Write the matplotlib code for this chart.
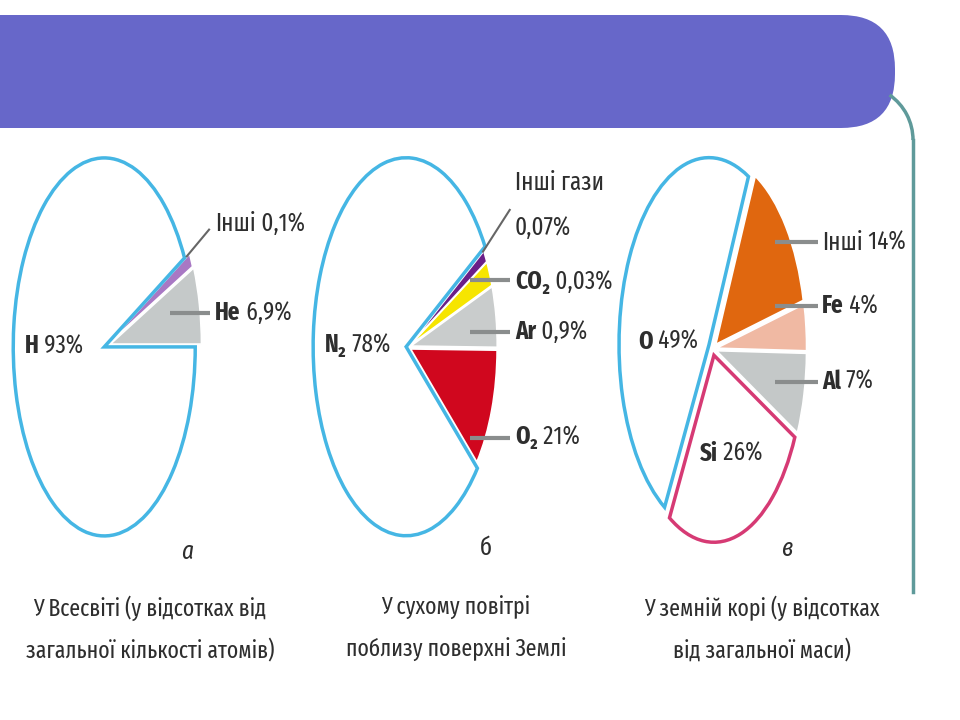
import matplotlib
matplotlib.use("Agg")
import matplotlib.pyplot as plt
from matplotlib.patches import FancyBboxPatch, Arc

plt.rcParams['font.family'] = ['Fira Sans Extra Condensed', 'Fira Sans Condensed', 'DejaVu Sans']

# а: у Всесвіті (частки - як намальовано на рисунку)
a_names = ["He", "Інші", "H"]
a_pcts = ["6,9%", "0,1%", "93%"]
a_sizes = [6.6, 1.2, 92.2]

# б: сухе повітря
b_names = ["O₂", "Ar", "CO₂", "Інші гази", "N₂"]
b_pcts = ["21%", "0,9%", "0,03%", "0,07%", "78%"]
b_sizes = [11.0, 5.6, 2.3, 1.1, 80.0]

# в: земна кора
c_names = ["O", "Si", "Al", "Fe", "Інші"]
c_pcts = ["49%", "26%", "7%", "4%", "14%"]
c_sizes = [49, 26, 7, 4, 14]

letters = ["а", "б", "в"]
captions = [
    ["У Всесвіті (у відсотках від", "загальної кількості атомів)"],
    ["У сухому повітрі", "поблизу поверхні Землі"],
    ["У земній корі (у відсотках", "від загальної маси)"],
]

BLUE = "#45b6e4"
TXT = "#2e2e2e"
LINE = "#8a8d8d"
FS = 18      # підписи секторів
FS_CAP = 17  # підписи під діаграмами

fig = plt.figure(figsize=(9.6, 7.2), dpi=100)

# фон слайда
bg = fig.add_axes([0, 0, 1, 1])
bg.set_xlim(0, 960)
bg.set_ylim(720, 0)
bg.axis('off')
bg.add_patch(FancyBboxPatch((-60, 15), 955, 113, boxstyle="round,pad=0,rounding_size=54",
                            fc="#6767c9", ec="none"))
bg.add_patch(Arc((858, 140), 110, 110, theta1=-55, theta2=0, color="#5f9a9a", lw=2.5))
bg.plot([913, 913], [140, 592], color="#5f9a9a", lw=2.5)

for i, cap in enumerate(captions):
    cx = [150, 456, 762][i]
    bg.text(cx, 608, cap[0], ha='center', va='center', fontsize=FS_CAP, color=TXT)
    bg.text(cx, 650, cap[1], ha='center', va='center', fontsize=FS_CAP, color=TXT)


def pie_axes(cx, cy, rx, ry):
    ax = fig.add_axes([(cx - 1.3 * rx) / 960, (720 - cy - 1.3 * ry) / 720,
                       2.6 * rx / 960, 2.6 * ry / 720])
    return ax


def finish(ax):
    ax.set_xlim(-1.3, 1.3)
    ax.set_ylim(-1.3, 1.3)
    ax.set_aspect('auto')
    ax.axis('off')


def label(ax, x, y, name, pct, bold=True):
    t = ax.text(x, y, name, fontsize=FS, fontweight='bold' if bold else 'normal',
                ha='left', va='center', color=TXT)
    ax.annotate(" " + pct, xy=(1, 0), xycoords=t, ha='left', va='bottom',
                fontsize=FS, color=TXT)


def leader(ax, x0, x1, y0, y1=None, lw=3, color=LINE):
    if y1 is None:
        y1 = y0
    ax.plot([x0, x1], [y0, y1], color=color, lw=lw, solid_capstyle='butt')


# ---- а ----
ax = pie_axes(106, 346, 91, 189)
w, _ = ax.pie(a_sizes, startangle=0, counterclock=True, explode=[0.05, 0.04, 0.02],
              colors=["#c5c9c9", "#a878c4", "white"],
              wedgeprops=dict(edgecolor="white", linewidth=1.2))
w[2].set_edgecolor(BLUE)
w[2].set_linewidth(2.5)
finish(ax)
label(ax, -0.89, 0.0, a_names[2], a_pcts[2])
leader(ax, 0.70, 1.14, 0.175)
label(ax, 1.2, 0.175, a_names[0], a_pcts[0])
leader(ax, 0.88, 1.14, 0.47, 0.62, lw=1.5, color="#666666")
label(ax, 1.2, 0.645, a_names[1], a_pcts[1], bold=False)
ax.text(0.89, -1.09, letters[0], fontsize=FS, style='italic', ha='center', va='center', color=TXT)

# ---- б ----
ax = pie_axes(408, 347, 93, 189)
w, _ = ax.pie(b_sizes, startangle=-40, counterclock=True,
              explode=[0.03, 0.03, 0.03, 0.03, 0.02],
              colors=["#d0071e", "#c9cccc", "#f6e500", "#6a1f88", "white"],
              wedgeprops=dict(edgecolor="white", linewidth=1.2))
for k in range(4):
    w[k].set_radius(0.93)
w[4].set_edgecolor(BLUE)
w[4].set_linewidth(2.5)
finish(ax)
label(ax, -0.89, 0.01, b_names[4], b_pcts[4])
leader(ax, 0.80, 1.10, 0.50, 0.73, lw=1.5, color="#666666")
ax.text(1.15, 0.87, b_names[3], fontsize=FS, ha='left', va='center', color=TXT)
ax.text(1.15, 0.63, b_pcts[3], fontsize=FS, ha='left', va='center', color=TXT)
leader(ax, 0.67, 1.10, 0.355)
label(ax, 1.15, 0.345, b_names[2], b_pcts[2])
leader(ax, 0.67, 1.10, 0.08)
label(ax, 1.15, 0.08, b_names[1], b_pcts[1])
leader(ax, 0.67, 1.10, -0.48)
label(ax, 1.15, -0.476, b_names[0], b_pcts[0])
ax.text(0.84, -1.06, letters[1], fontsize=FS, ha='center', va='center', color=TXT)

# ---- в ----
ax = pie_axes(713, 349, 90, 187)
w, _ = ax.pie(c_sizes, startangle=64, counterclock=True,
              explode=[0.05, 0.035, 0.04, 0.04, 0.04],
              colors=["white", "white", "#c4c8c8", "#f0b9a3", "#e0670f"],
              wedgeprops=dict(edgecolor="white", linewidth=1.2))
w[0].set_edgecolor(BLUE)
w[0].set_linewidth(2.5)
w[1].set_edgecolor("#d63a74")
w[1].set_linewidth(2.5)
finish(ax)
label(ax, -0.83, 0.04, c_names[0], c_pcts[0])
label(ax, -0.14, -0.56, c_names[1], c_pcts[1])
leader(ax, 0.69, 1.17, 0.57)
label(ax, 1.21, 0.57, c_names[4], c_pcts[4], bold=False)
leader(ax, 0.69, 1.17, 0.23)
label(ax, 1.21, 0.23, c_names[3], c_pcts[3])
leader(ax, 0.69, 1.17, -0.175)
label(ax, 1.21, -0.175, c_names[2], c_pcts[2])
ax.text(0.82, -1.07, letters[2], fontsize=FS, style='italic', ha='center', va='center', color=TXT)

plt.savefig("out.png", dpi=100)
